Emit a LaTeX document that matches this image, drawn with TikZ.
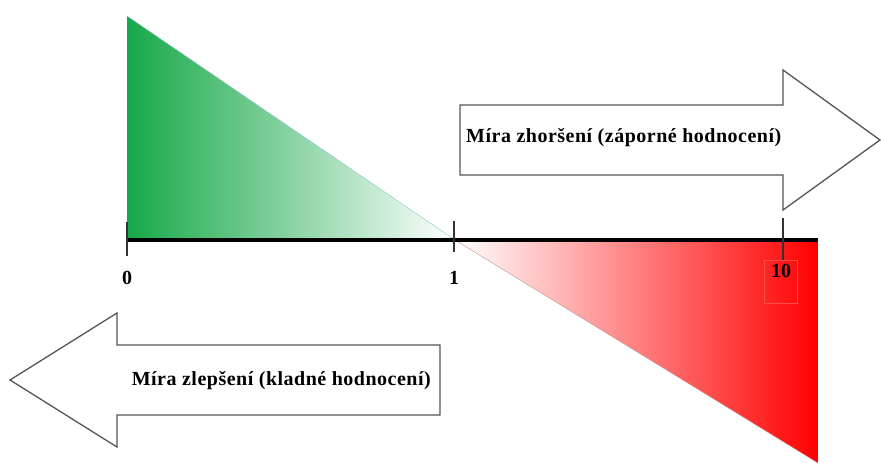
\documentclass[tikz,border=0pt]{standalone}
\usepackage{fontspec}
\setmainfont{Liberation Serif}
\newfontfamily\popisfont[LetterSpace=2.5]{Liberation Serif}
\usetikzlibrary{positioning}
\definecolor{zelena}{RGB}{22,168,72}
\definecolor{obrys}{RGB}{85,85,85}

\begin{document}
\begin{tikzpicture}[
    x=1pt, y=-1pt,
    % Styles
    axis/.style={line width=3.2pt, black},
    tick/.style={line width=1.2pt, black!80},
    num/.style={font=\bfseries\fontsize{20}{22}\selectfont, inner sep=1pt},
    label/.style={font=\popisfont\bfseries\fontsize{20}{24}\selectfont, inner sep=1pt},
    arrowbox/.style={draw=obrys, line width=1.3pt, fill=white, line join=miter}
]
    \useasboundingbox (0,0) rectangle (881,463);

    % 1. TRIANGLES
    \shade[left color=zelena, middle color=zelena!45, right color=white] (127,16) -- (455,240) -- (127,240) -- cycle;
    \draw[teal!45, thin] (127,16) -- (455,240);
    \shade[left color=white, middle color=red!75, right color=red] (455,240) -- (818,240) -- (818,463) -- cycle;
    \draw[red!50!black!45, thin] (455,240) -- (818,463);

    % 2. AXIS
    \coordinate (zero) at (127,240);
    \coordinate (one) at (454,240);
    \coordinate (ten) at (783,240);
    \coordinate (end) at (818,240);
    \draw[axis] (zero) -- (end);
    \draw[tick] ([yshift=18pt]zero) -- ([yshift=-16pt]zero);
    \draw[tick] ([yshift=19pt]one) -- ([yshift=-12pt]one);

    % 3. LABELS
    \node[num, below=30pt of zero] (lab_zero) {0};
    \node[num, below=30pt of one] (lab_one) {1};
    \node[num, draw=red!70, thin, minimum width=33pt, inner ysep=4pt, text height=13pt, text depth=22pt, anchor=north] (lab_ten) at (781,260) {10};
    \draw[tick] ([yshift=22pt]ten) -- (ten |- lab_ten.north);

    % 4. ARROWS
    \draw[arrowbox] (460,105) -- (783,105) -- (783,70) -- (880,140) -- (783,210) -- (783,175) -- (460,175) -- cycle;
    \node[label, anchor=west] (worse) at (465,138) {Míra zhoršení (záporné hodnocení)};

    \draw[arrowbox] (440,345) -- (117,345) -- (117,313) -- (10,380) -- (117,447) -- (117,415) -- (440,415) -- cycle;
    \node[label, anchor=east] (better) at (432,381) {Míra zlepšení (kladné hodnocení)};

\end{tikzpicture}
\end{document}
